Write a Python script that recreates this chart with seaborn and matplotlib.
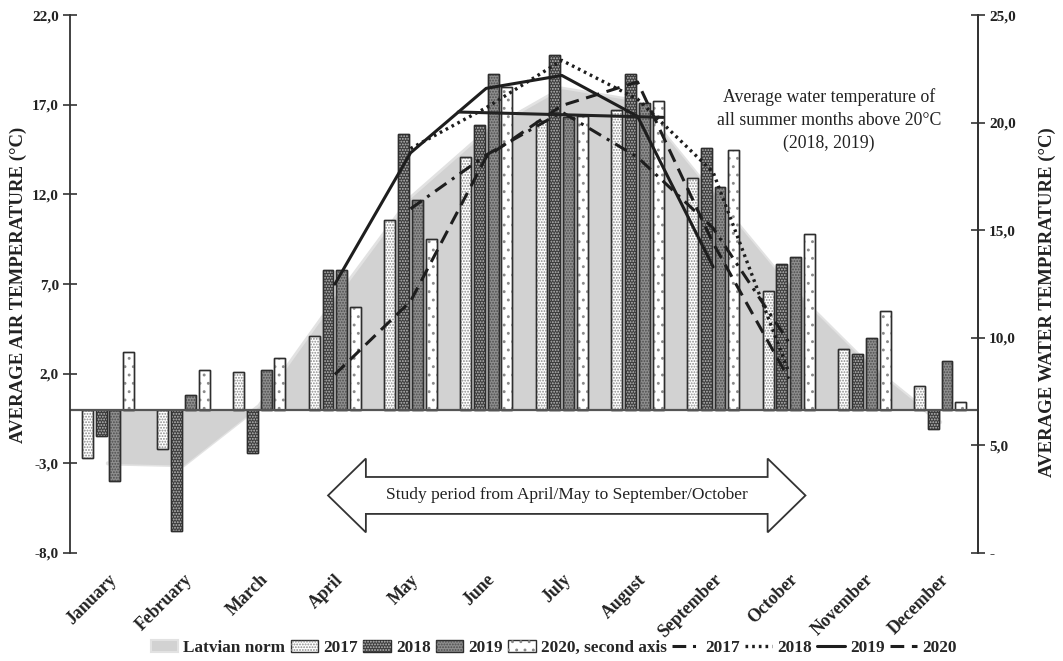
import numpy as np
import pandas as pd
import matplotlib
matplotlib.use("Agg")
import matplotlib.pyplot as plt
from matplotlib.patches import Patch, Rectangle, Polygon
from matplotlib.lines import Line2D
from matplotlib.legend_handler import HandlerTuple
import matplotlib.transforms as mtransforms
import seaborn as sns

# ---------------- data ----------------
months = ["January", "February", "March", "April", "May", "June", "July",
          "August", "September", "October", "November", "December"]
years = ["2017", "2018", "2019", "2020"]

air_2017 = [-2.7, -2.2, 2.1, 4.1, 10.6, 14.1, 16.1, 16.7, 12.9, 6.6, 3.4, 1.3]
air_2018 = [-1.5, -6.8, -2.4, 7.8, 15.4, 15.9, 19.8, 18.7, 14.6, 8.1, 3.1, -1.1]
air_2019 = [-4.0, 0.8, 2.2, 7.8, 11.7, 18.7, 16.3, 17.1, 12.4, 8.5, 4.0, 2.7]
air_2020 = [3.2, 2.2, 2.9, 5.7, 9.5, 18.0, 16.4, 17.2, 14.5, 9.8, 5.5, 0.4]
latvian_norm = [-3.0, -3.1, 0.2, 6.1, 11.8, 15.5, 17.9, 17.2, 12.0, 6.9, 2.7, -0.7]

water_months = ["April", "May", "June", "July", "August", "September", "October"]
water_2017 = [np.nan, 16.0, 18.5, 20.5, 18.4, 15.1, 9.8]
water_2018 = [np.nan, 18.8, 20.7, 22.9, 21.1, 17.7, 8.4]
water_2019 = [12.5, 18.6, 21.6, 22.2, 20.3, 13.3, np.nan]
water_2020 = [8.3, 11.7, 18.4, 20.8, 21.9, 14.4, 8.1]

left_ticks = [-8, -3, 2, 7, 12, 17, 22]
left_ticklabels = ["-8,0", "-3,0", "2,0", "7,0", "12,0", "17,0", "22,0"]
right_ticks = [0, 5, 10, 15, 20, 25]
right_ticklabels = ["-", "5,0", "10,0", "15,0", "20,0", "25,0"]

summer_line_x = [4.63, 7.34]
summer_line_y = [20.5, 20.25]

annotation_text = "Average water temperature of\nall summer months above 20\u00b0C\n(2018, 2019)"
arrow_text = "Study period from April/May to September/October"

# ---------------- style ----------------
sns.set_theme(style="white")
plt.rcParams["font.family"] = ["Liberation Serif", "DejaVu Serif"]
plt.rcParams["hatch.linewidth"] = 0.9

fig = plt.figure(figsize=(10.63, 6.61), dpi=100)
ax = fig.add_axes([0.0659, 0.1634, 0.920 - 0.0659, 0.977 - 0.1634])

x_idx = np.arange(len(months))

# Latvian norm area
ax.fill_between(x_idx, 0, latvian_norm, color="#d2d2d2", lw=0, zorder=0.5)
ax.plot(x_idx, latvian_norm, color="#e2e2e2", lw=3, zorder=0.45)

# Bars
df = pd.DataFrame({
    "month": months * 4,
    "year": sum([[y] * 12 for y in years], []),
    "value": air_2017 + air_2018 + air_2019 + air_2020,
})
bar_face = {"2017": "#ffffff", "2018": "#3d3d3d", "2019": "#8f8f8f", "2020": "#ffffff"}
hatch_col = {"2017": "#8a8a8a", "2018": "#bdbdbd", "2019": "#4d4d4d", "2020": "#8a8a8a"}
hatch_pat = {"2017": "......", "2018": "......", "2019": "......", "2020": ".."}

sns.barplot(data=df, x="month", y="value", hue="year", order=months,
            hue_order=years, width=0.725, gap=0.2, errorbar=None,
            palette=bar_face, legend=False, ax=ax, zorder=2)

for cont, yr in zip(ax.containers, years):
    for p in cont.patches:
        p.set_facecolor(bar_face[yr])
        p.set_edgecolor("#2e2e2e")
        p.set_linewidth(1.0)
        p.set_zorder(2)
        ov = Rectangle(p.get_xy(), p.get_width(), p.get_height(),
                       facecolor="none", edgecolor=hatch_col[yr],
                       hatch=hatch_pat[yr], lw=0, zorder=2.05)
        ax.add_patch(ov)
        outline = Rectangle(p.get_xy(), p.get_width(), p.get_height(),
                            facecolor="none", edgecolor="#2e2e2e", lw=1.0, zorder=2.1)
        ax.add_patch(outline)

ax.axhline(0, color="#555555", lw=1.6, zorder=2.2)

ax.set_xlim(-0.5, 11.5)
ax.set_ylim(-8, 22)
ax.set_yticks(left_ticks)
ax.set_yticklabels(left_ticklabels, fontweight="bold", fontsize=11)
ax.set_xticks([])
ax.set_xlabel("")
ax.set_ylabel("")
for s in ["top", "bottom"]:
    ax.spines[s].set_visible(False)
for s in ["left", "right"]:
    ax.spines[s].set_color("#333333")
    ax.spines[s].set_linewidth(1.3)
ax.tick_params(axis="y", direction="inout", length=10, width=1.2, color="#333333",
               pad=3, labelcolor="#222222")

# month labels
trans = mtransforms.blended_transform_factory(ax.transData, ax.transAxes)
for i, m in enumerate(months):
    ax.text(i + 0.08, -0.045, m, transform=trans, rotation=45, ha="right",
            va="center", rotation_mode="anchor", fontweight="bold", fontsize=12.8,
            color="#222222")

# study-period double arrow
x0, x1, yc = 2.91, 9.22, -4.79
bh, hh, hl = 2.06, 4.12, 0.50
arrow_pts = [(x0, yc), (x0 + hl, yc + hh / 2), (x0 + hl, yc + bh / 2),
             (x1 - hl, yc + bh / 2), (x1 - hl, yc + hh / 2), (x1, yc),
             (x1 - hl, yc - hh / 2), (x1 - hl, yc - bh / 2),
             (x0 + hl, yc - bh / 2), (x0 + hl, yc - hh / 2)]
ax.add_patch(Polygon(arrow_pts, closed=True, facecolor="white",
                     edgecolor="#333333", lw=1.3, zorder=3))
ax.text((x0 + x1) / 2, yc, arrow_text, ha="center", va="center",
        fontsize=12.5, color="#222222", zorder=4)

# ---------------- water lines (second axis) ----------------
ax2 = ax.twinx()
wx = np.array([months.index(m) for m in water_months])
line_styles = {
    "2017": dict(linestyle=(0, (4.5, 2.2, 1.0, 2.2)), lw=2.2),
    "2018": dict(linestyle=(0, (0.8, 1.2)), lw=2.4),
    "2019": dict(linestyle="-", lw=2.2),
    "2020": dict(linestyle=(0, (4.5, 2.5)), lw=2.2),
}
for yr, vals in zip(years, [water_2017, water_2018, water_2019, water_2020]):
    vals = np.array(vals, dtype=float)
    mask = ~np.isnan(vals)
    sns.lineplot(x=wx[mask], y=vals[mask], ax=ax2, color="#1e1e1e",
                 zorder=5, **line_styles[yr])

ax2.plot(summer_line_x, summer_line_y, color="#222222", lw=2.2, zorder=5)

ax2.set_ylim(0, 25)
ax2.set_yticks(right_ticks)
ax2.set_yticklabels(right_ticklabels, fontweight="bold", fontsize=11)
ax2.set_xlim(-0.5, 11.5)
ax2.set_ylabel("")
for s in ["top", "bottom", "left"]:
    ax2.spines[s].set_visible(False)
ax2.spines["right"].set_color("#333333")
ax2.spines["right"].set_linewidth(1.3)
ax2.tick_params(axis="y", direction="inout", length=10, width=1.2, color="#333333",
                pad=3, labelcolor="#222222")
ax2.grid(False)
ax.grid(False)

# ---------------- texts ----------------
fig.text(0.017, 0.569, "AVERAGE AIR TEMPERATURE (\u00b0C)", rotation=90,
         ha="center", va="center", fontweight="bold", fontsize=13.5, color="#222222")
fig.text(0.985, 0.543, "AVERAGE WATER TEMPERATURE (\u00b0C)", rotation=90,
         ha="center", va="center", fontweight="bold", fontsize=13.5, color="#222222")
fig.text(0.780, 0.818, annotation_text, ha="center", va="center",
         fontsize=12.8, linespacing=1.45, color="#222222")

# ---------------- legend ----------------
def bar_handle(yr):
    return (Patch(facecolor=bar_face[yr], edgecolor="#2e2e2e", lw=1.0),
            Patch(facecolor="none", edgecolor=hatch_col[yr], hatch=hatch_pat[yr], lw=0))

handles = [Patch(facecolor="#d2d2d2", edgecolor="#e2e2e2", lw=1.5)]
handles += [bar_handle(y) for y in years]
handles += [Line2D([], [], color="#1e1e1e", **line_styles[y]) for y in years]
labels = ["Latvian norm", "2017", "2018", "2019", "2020, second axis",
          "2017", "2018", "2019", "2020"]
fig.legend(handles, labels, loc="center", bbox_to_anchor=(0.521, 0.02), ncol=9,
           frameon=False, prop=dict(weight="bold", size=12.4),
           handlelength=1.6, handletextpad=0.3, columnspacing=0.3,
           handler_map={tuple: HandlerTuple(ndivide=1)})

fig.savefig("out.png", dpi=100)
